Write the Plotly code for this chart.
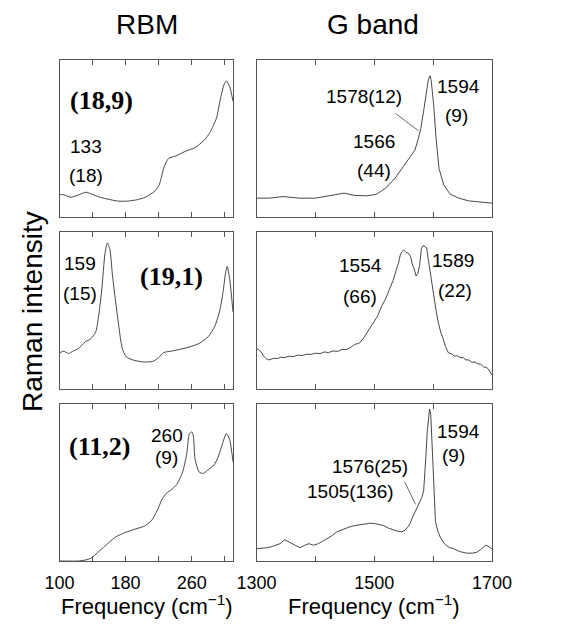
import plotly.graph_objects as go
from plotly.subplots import make_subplots

# ---------------- data (intensities normalised 0..1 per panel) -------------
rbm_18_9_x = [100,104,114,123,132,140,149,160,171,182,193,204,216,221,227,232,241,253,264,275,282,290,295,299,302,306,310]
rbm_18_9_y = [0.141,0.143,0.126,0.14,0.158,0.143,0.126,0.112,0.101,0.101,0.109,0.126,0.168,0.21,0.326,0.373,0.389,0.42,0.442,0.488,0.537,0.63,0.758,0.842,0.867,0.83,0.737]

rbm_19_1_x = [100,105,111,116,123,131,138,144,147,151,155,158,161,164,170,176,181,190,202,213,220,226,235,247,258,269,280,288,294,298,301,303,306,310]
rbm_19_1_y = [0.23,0.241,0.226,0.24,0.258,0.30,0.32,0.366,0.45,0.624,0.86,0.93,0.89,0.73,0.47,0.258,0.204,0.183,0.172,0.176,0.20,0.232,0.241,0.254,0.269,0.29,0.333,0.40,0.5,0.62,0.74,0.78,0.70,0.49]

rbm_11_2_x = [100,123,131,138,146,153,161,168,179,190,202,211,218,224,229,236,242,249,254,257,260,262,264,269,274,279,287,292,297,302,306,310]
rbm_11_2_y = [0.0,0.0,0.006,0.017,0.053,0.085,0.123,0.153,0.18,0.20,0.22,0.254,0.318,0.39,0.428,0.455,0.487,0.565,0.68,0.805,0.82,0.795,0.65,0.565,0.556,0.575,0.61,0.66,0.74,0.81,0.77,0.63]

g_18_9_x = [1300,1322,1345,1374,1400,1426,1449,1467,1488,1504,1519,1535,1551,1561,1566,1569,1574,1579,1584,1589,1592,1595,1597,1601,1605,1610,1618,1629,1644,1660,1680,1700]
g_18_9_y = [0.12,0.12,0.13,0.12,0.12,0.137,0.152,0.137,0.135,0.145,0.183,0.246,0.33,0.39,0.415,0.425,0.488,0.562,0.678,0.794,0.878,0.9,0.86,0.71,0.5,0.31,0.204,0.145,0.12,0.103,0.095,0.088]

g_19_1_x = [1300,1304,1308,1312,1316,1320,1325,1330,1336,1342,1348,1355,1362,1370,1378,1385,1392,1400,1408,1415,1422,1430,1438,1445,1452,1460,1467,1474,1482,1490,1498,1505,1513,1520,1526,1532,1537,1541,1544,1547,1550,1554,1558,1562,1565,1568,1571,1574,1577,1580,1583,1586,1589,1592,1595,1598,1601,1605,1609,1613,1617,1621,1626,1631,1636,1641,1646,1651,1656,1661,1666,1671,1676,1681,1686,1691,1696,1700]
g_19_1_y = [0.257,0.25,0.235,0.21,0.195,0.185,0.19,0.196,0.194,0.203,0.2,0.209,0.206,0.216,0.213,0.222,0.22,0.228,0.225,0.236,0.232,0.242,0.24,0.252,0.25,0.265,0.285,0.29,0.325,0.37,0.415,0.46,0.53,0.58,0.636,0.69,0.754,0.80,0.85,0.875,0.886,0.87,0.865,0.84,0.79,0.764,0.72,0.735,0.786,0.893,0.914,0.905,0.90,0.82,0.74,0.66,0.6,0.5,0.42,0.36,0.32,0.27,0.23,0.225,0.21,0.212,0.2,0.2,0.185,0.185,0.17,0.172,0.16,0.158,0.14,0.138,0.115,0.09]

g_11_2_x = [1300,1310,1317,1325,1333,1340,1348,1353,1358,1366,1374,1382,1389,1397,1405,1412,1420,1428,1436,1446,1457,1467,1477,1485,1493,1500,1508,1516,1524,1531,1539,1547,1552,1557,1561,1565,1569,1573,1577,1581,1584,1586,1588,1590,1592,1594,1596,1598,1600,1602,1604,1608,1612,1617,1622,1628,1635,1645,1657,1667,1674,1680,1685,1689,1693,1697,1700]
g_11_2_y = [0.078,0.08,0.084,0.09,0.099,0.11,0.135,0.125,0.114,0.095,0.084,0.1,0.11,0.1,0.11,0.125,0.141,0.16,0.184,0.2,0.215,0.225,0.232,0.235,0.24,0.238,0.232,0.225,0.209,0.2,0.19,0.185,0.195,0.215,0.24,0.278,0.31,0.346,0.37,0.405,0.45,0.55,0.68,0.82,0.92,0.965,0.93,0.75,0.51,0.36,0.25,0.19,0.152,0.12,0.099,0.085,0.078,0.06,0.05,0.05,0.055,0.07,0.09,0.1,0.095,0.085,0.076]

column_titles = ["RBM", "G band"]
chiralities = ["(18,9)", "(19,1)", "(11,2)"]
rbm_ticks = [100, 140, 180, 220, 260, 300]
rbm_ticktext = ["100", "", "180", "", "260", ""]
g_ticks = [1300, 1400, 1500, 1600, 1700]
g_ticktext = ["1300", "", "1500", "", "1700"]

# peak labels: (row, col, x, y, text)
peak_labels = [
    (1, 1, 132, 0.447, "133"), (1, 1, 132, 0.266, "(18)"),
    (1, 2, 1482, 0.766, "1578(12)"), (1, 2, 1499, 0.479, "1566"), (1, 2, 1499, 0.298, "(44)"),
    (1, 2, 1643, 0.83, "1594"), (1, 2, 1640, 0.649, "(9)"),
    (2, 1, 125, 0.80, "159"), (2, 1, 125, 0.608, "(15)"),
    (2, 2, 1476, 0.788, "1554"), (2, 2, 1476, 0.587, "(66)"),
    (2, 2, 1634, 0.82, "1589"), (2, 2, 1637, 0.63, "(22)"),
    (3, 1, 230, 0.80, "260"), (3, 1, 230, 0.66, "(9)"),
    (3, 2, 1643, 0.82, "1594"), (3, 2, 1634, 0.672, "(9)"),
    (3, 2, 1493, 0.598, "1576(25)"), (3, 2, 1459, 0.44, "1505(136)"),
]
chirality_pos = [(151, 0.745), (236, 0.714), (149, 0.725)]
# leader lines: (row, col, x_from, y_from, x_to, y_to)
leaders = [(1, 2, 1536, 0.66, 1575, 0.55), (3, 2, 1552, 0.50, 1570, 0.36)]

# ---------------- figure -------------
W, H = 574, 624
ML, MR, MT, MB = 59, 82, 60, 63
fig = make_subplots(rows=3, cols=2, horizontal_spacing=0.055, vertical_spacing=0.03)

spectra = [(rbm_18_9_x, rbm_18_9_y, g_18_9_x, g_18_9_y),
           (rbm_19_1_x, rbm_19_1_y, g_19_1_x, g_19_1_y),
           (rbm_11_2_x, rbm_11_2_y, g_11_2_x, g_11_2_y)]
line = dict(color="#333333", width=0.9)
for r, (rx, ry, gx, gy) in enumerate(spectra, start=1):
    fig.add_trace(go.Scatter(x=rx, y=ry, mode="lines", line=dict(shape="spline", smoothing=0.6, **line),
                             showlegend=False, hoverinfo="skip"), row=r, col=1)
    fig.add_trace(go.Scatter(x=gx, y=gy, mode="lines", line=line,
                             showlegend=False, hoverinfo="skip"), row=r, col=2)

pw = W - ML - MR
ph = H - MT - MB
def px_x(p):
    return (p - ML) / pw
def px_y(p):
    return (H - MB - p) / ph
def clamp(v):
    return min(1.0, max(0.0, v))

col_dom = [[clamp(px_x(59.5)), clamp(px_x(233))], [clamp(px_x(256.5)), clamp(px_x(492))]]
row_dom = [[clamp(px_y(217)), clamp(px_y(60))], [clamp(px_y(389)), clamp(px_y(232))],
           [clamp(px_y(561)), clamp(px_y(403.5))]]

axis_style = dict(showline=True, linecolor="#555555", linewidth=1, mirror="ticks",
                  showgrid=False, zeroline=False, ticks="inside", ticklen=5,
                  tickcolor="#555555", tickwidth=1, ticklabelstandoff=5,
                  tickfont=dict(family="Liberation Sans, Arial", size=18, color="black"))
for r in range(1, 4):
    for c in range(1, 3):
        idx = (r - 1) * 2 + c
        xname = "xaxis" if idx == 1 else f"xaxis{idx}"
        yname = "yaxis" if idx == 1 else f"yaxis{idx}"
        if c == 1:
            xa = dict(range=[100, 310], tickvals=rbm_ticks, ticktext=rbm_ticktext)
        else:
            xa = dict(range=[1300, 1700], tickvals=g_ticks, ticktext=g_ticktext)
        fig.layout[xname].update(domain=col_dom[c - 1], showticklabels=(r == 3), **xa, **axis_style)
        fig.layout[yname].update(domain=row_dom[r - 1], range=[0, 1], showticklabels=False,
                                 showline=True, linecolor="#555555", linewidth=1, mirror=True,
                                 showgrid=False, zeroline=False, ticks="")

def axref(r, c):
    idx = (r - 1) * 2 + c
    return ("x" if idx == 1 else f"x{idx}"), ("y" if idx == 1 else f"y{idx}")

ann = []
sans = "Liberation Sans, Arial"
for r, c, x, y, t in peak_labels:
    xr, yr = axref(r, c)
    ann.append(dict(x=x, y=y, xref=xr, yref=yr, text=t, showarrow=False,
                    xanchor="center", yanchor="middle",
                    font=dict(family=sans, size=19, color="black")))
for r, (t, (x, y)) in enumerate(zip(chiralities, chirality_pos), start=1):
    xr, yr = axref(r, 1)
    ann.append(dict(x=x, y=y, xref=xr, yref=yr, text=f"<b>{t}</b>", showarrow=False,
                    xanchor="center", yanchor="middle",
                    font=dict(family="Liberation Serif, Times New Roman", size=26, color="black")))
for r, c, x0, y0, x1, y1 in leaders:
    xr, yr = axref(r, c)
    fig.add_shape(type="line", x0=x0, y0=y0, x1=x1, y1=y1, xref=xr, yref=yr,
                  line=dict(color="#444444", width=0.8))
for t, cx in zip(column_titles, [146.5, 373]):
    ann.append(dict(x=px_x(cx), y=px_y(24), xref="paper", yref="paper", text=t, showarrow=False,
                    xanchor="center", yanchor="middle",
                    font=dict(family=sans, size=28, color="black")))
for cx in [146.5, 374]:
    ann.append(dict(x=px_x(cx), y=px_y(605), xref="paper", yref="paper",
                    text="Frequency (cm<sup>\u22121</sup>)", showarrow=False,
                    xanchor="center", yanchor="middle",
                    font=dict(family=sans, size=22, color="black")))
ann.append(dict(x=px_x(32), y=px_y(312), xref="paper", yref="paper", text="Raman intensity",
                xanchor="center", yanchor="middle",
                textangle=-90, showarrow=False, font=dict(family=sans, size=28, color="black")))

fig.update_layout(width=W, height=H, margin=dict(l=ML, r=MR, t=MT, b=MB),
                  paper_bgcolor="white", plot_bgcolor="white", annotations=ann)
fig.write_html("out.html")
